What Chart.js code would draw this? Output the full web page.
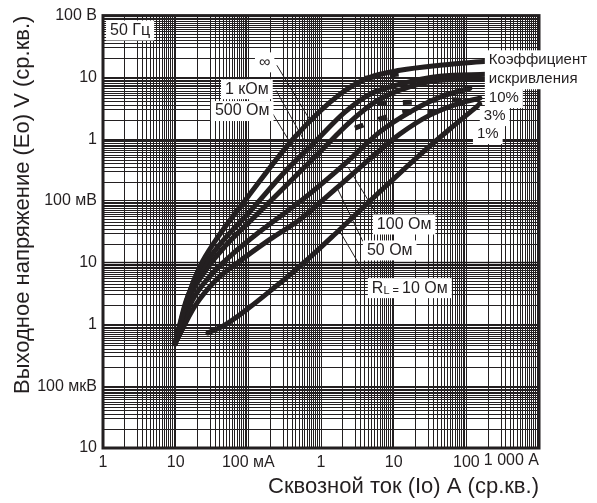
<!DOCTYPE html>
<html>
<head>
<meta charset="utf-8">
<script src="https://cdn.jsdelivr.net/npm/chart.js@4"></script>
<style>
  body { margin: 0; background: #fff; }
</style>
</head>
<body>
<canvas id="ctChart" width="597" height="503"></canvas>
<script>
// through current (A) vs output voltage (V), one curve per load resistance
const infX = [0.0098, 0.0148, 0.0216, 0.0347, 0.0987, 0.4375, 1.82, 4.71, 12.2, 43.2, 191];
const infY = [0.000485, 0.00288, 0.00875, 0.0221, 0.117, 1.085, 5.34, 10.0, 13.0, 15.7, 18.2];
const k1X = [0.0098, 0.0139, 0.0230, 0.0407, 0.1052, 0.3188, 0.8243, 2.132, 4.706, 12.17, 43.2, 191.4];
const k1Y = [0.000485, 0.00239, 0.00783, 0.0198, 0.0673, 0.296, 0.901, 2.74, 5.34, 7.74, 10.42, 11.22];
const r500X = [0.0098, 0.01476, 0.02529, 0.04767, 0.1233, 0.3734, 0.9658, 2.497, 5.512, 12.17, 43.2, 191.4];
const r500Y = [0.000485, 0.00239, 0.00727, 0.01836, 0.0559, 0.2046, 0.622, 1.89, 3.97, 6.20, 8.98, 9.32];
const r100X = [0.0098, 0.01676, 0.02963, 0.05584, 0.1444, 0.5127, 2.132, 6.459, 16.70, 43.2, 111.7];
const r100Y = [0.000485, 0.00239, 0.00604, 0.01268, 0.0320, 0.0974, 0.399, 1.31, 2.74, 4.78, 6.67];
const r50X = [0.0098, 0.01842, 0.03472, 0.06968, 0.1982, 0.5127, 1.603, 4.706, 12.17, 31.47, 81.41, 153.4];
const r50Y = [0.000485, 0.00199, 0.00502, 0.00978, 0.0238, 0.0500, 0.1578, 0.480, 1.21, 2.45, 3.83, 4.61];
const r10X = [0.0278, 0.0477, 0.1052, 0.1982, 0.5127, 1.820, 6.459, 22.93, 59.29, 153.4];
const r10Y = [0.00073, 0.00098, 0.00191, 0.00346, 0.00875, 0.0345, 0.1412, 0.557, 1.46, 3.69];

// distortion lines (dashed)
const d10X = [4.02, 17.8];
const d10Y = [9.67, 12.1];
const d3X = [6.06, 19.6, 50.6, 153];
const d3Y = [3.83, 3.97, 4.44, 3.97];
const d1X = [2.93, 6.46, 14.3, 43.2];
const d1Y = [1.51, 2.12, 2.74, 2.74];

const xDecadeLabels = ["1", "10", "100 мА", "1", "10", "100", "1 000 A"];
const yDecadeLabels = ["10", "100 мкВ", "1", "10", "100 мВ", "1", "10", "100 В"];
const gridMantissas = [1, 2, 3, 3.5, 4, 4.5, 5, 5.5, 6, 6.5, 7, 7.5, 8, 8.5, 9, 9.5];

const noteText = ["50 Гц", "∞", "1 кОм", "500 Ом", "100 Ом", "50 Ом", "RL = 10 Ом",
                  "Коэффициент", "искривления", "10%", "3%", "1%"];
const noteX = [0.00125, 0.14, 0.0477, 0.0347, 5.87, 4.28, 5.01, 204, 204, 204, 174, 140];
const noteY = [57.4, 17.5, 6.43, 2.85, 0.0415, 0.0158, 0.00387, 18.9, 9.32, 4.61, 2.36, 1.21];

const leaderX1 = [0.247, 0.240, 0.218, 5.87, 3.77, 4.02];
const leaderY1 = [15.7, 6.20, 2.55, 0.0602, 0.0221, 0.0065];
const leaderX2 = [0.704, 0.601, 0.466, 2.34, 1.71, 1.82];
const leaderY2 = [2.04, 0.901, 0.578, 0.357, 0.152, 0.032];

const INK = "#231f20";
const FONT = "'Liberation Sans', Arial, sans-serif";

const toPoints = (xs, ys) => xs.map((x, i) => ({ x: x, y: ys[i] }));
const isDecade = v => Math.abs(Math.log10(v) - Math.round(Math.log10(v))) < 1e-6;

function logGrid(min, max) {
    const ticks = [];
    for (let e = Math.round(Math.log10(min)); e <= Math.round(Math.log10(max)); e++) {
        gridMantissas.forEach(m => {
            const v = m * Math.pow(10, e);
            if (v <= max * 1.0001) ticks.push({ value: v });
        });
    }
    return ticks;
}

const solid = (xs, ys) => ({
    data: toPoints(xs, ys),
    borderColor: INK, borderWidth: 5, pointRadius: 0,
    borderCapStyle: "round", borderJoinStyle: "round",
    cubicInterpolationMode: "monotone"
});
const dashed = (xs, ys) => ({
    data: toPoints(xs, ys),
    borderColor: INK, borderWidth: 5, pointRadius: 0,
    borderDash: [9, 16], tension: 0
});

const annotate = {
    id: "annotate",
    beforeDatasetsDraw(chart) {
        const { ctx, chartArea: a, scales: { y } } = chart;
        ctx.save();
        ctx.fillStyle = "rgba(0,0,0,0.2)";
        const top = y.getPixelForValue(0.0106), bottom = y.getPixelForValue(0.0087);
        ctx.fillRect(a.left, top, a.right - a.left, bottom - top);
        ctx.restore();
    },
    afterDatasetsDraw(chart) {
        const { ctx, chartArea: a, scales: { x, y } } = chart;
        ctx.save();
        ctx.strokeStyle = INK;
        ctx.lineWidth = 3;
        ctx.strokeRect(a.left, a.top, a.right - a.left, a.bottom - a.top);

        ctx.lineWidth = 1;
        leaderX1.forEach((v, i) => {
            ctx.beginPath();
            ctx.moveTo(x.getPixelForValue(v), y.getPixelForValue(leaderY1[i]));
            ctx.lineTo(x.getPixelForValue(leaderX2[i]), y.getPixelForValue(leaderY2[i]));
            ctx.stroke();
        });

        ctx.textBaseline = "middle";
        ctx.textAlign = "left";
        noteText.forEach((t, i) => {
            const px = x.getPixelForValue(noteX[i]);
            const py = y.getPixelForValue(noteY[i]);
            const size = i < 7 ? 16 : 15;
            let parts = [[t, size, 0]];
            if (t.startsWith("RL")) {
                parts = [["R", size, 0], ["L", 11, 3], [" = ", 11, 3], [t.slice(5), size, 0]];
            }
            let w = 0;
            parts.forEach(p => { ctx.font = p[1] + "px " + FONT; w += ctx.measureText(p[0]).width; });
            ctx.fillStyle = "#fff";
            ctx.fillRect(px - 4, py - 10, w + 8, 20);
            ctx.fillStyle = INK;
            let cx = px;
            parts.forEach(p => {
                ctx.font = p[1] + "px " + FONT;
                ctx.fillText(p[0], cx, py + p[2]);
                cx += ctx.measureText(p[0]).width;
            });
        });

        // last x tick label sits flush with the right edge
        ctx.font = "16px " + FONT;
        ctx.textAlign = "right";
        ctx.textBaseline = "top";
        ctx.fillText(xDecadeLabels[xDecadeLabels.length - 1], a.right, a.bottom + 5);
        ctx.restore();
    }
};

const ctx = document.getElementById("ctChart").getContext("2d");

new Chart(ctx, {
    type: "line",
    data: {
        datasets: [
            solid(infX, infY), solid(k1X, k1Y), solid(r500X, r500Y),
            solid(r100X, r100Y), solid(r50X, r50Y), solid(r10X, r10Y),
            dashed(d10X, d10Y), dashed(d3X, d3Y), dashed(d1X, d1Y)
        ]
    },
    options: {
        responsive: false,
        devicePixelRatio: 1,
        animation: false,
        layout: { padding: { top: 13, right: 58, left: 0, bottom: 0 } },
        plugins: { legend: { display: false }, tooltip: { enabled: false } },
        scales: {
            x: {
                type: "logarithmic", min: 0.001, max: 1000,
                afterBuildTicks: s => { s.ticks = logGrid(0.001, 1000); },
                afterFit: s => { s.height = 55; },
                grid: { color: INK, lineWidth: 1, drawTicks: false },
                border: { display: false },
                ticks: {
                    autoSkip: false, maxRotation: 0, padding: 5,
                    color: INK, font: { family: FONT, size: 16 },
                    callback: v => (isDecade(v) && Math.round(Math.log10(v)) < 3) ? xDecadeLabels[Math.round(Math.log10(v)) + 3] : ""
                },
                title: {
                    display: true, align: "end", text: "Сквозной ток (Io) А (ср.кв.)",
                    color: INK, font: { family: FONT, size: 22 }, padding: { top: 0, bottom: 3 }
                }
            },
            y: {
                type: "logarithmic", min: 0.00001, max: 100,
                afterBuildTicks: s => { s.ticks = logGrid(0.00001, 100); },
                afterFit: s => { s.width = 103; },
                grid: { color: INK, lineWidth: 1, drawTicks: false },
                border: { display: false },
                ticks: {
                    autoSkip: false, padding: 6,
                    color: INK, font: { family: FONT, size: 16 },
                    callback: v => isDecade(v) ? yDecadeLabels[Math.round(Math.log10(v)) + 5] : ""
                },
                title: {
                    display: true, align: "end", text: "Выходное напряжение (Eo) V (ср.кв.)",
                    color: INK, font: { family: FONT, size: 22 }, padding: { top: 10, bottom: 0 }
                }
            }
        }
    },
    plugins: [annotate]
});
</script>
</body>
</html>
